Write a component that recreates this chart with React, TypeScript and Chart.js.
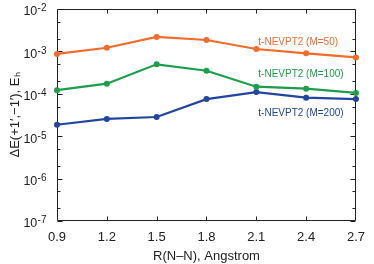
import React, { useEffect, useRef } from 'react';
import { Chart, registerables } from 'chart.js';

Chart.register(...registerables);

const categories = ['0.9', '1.2', '1.5', '1.8', '2.1', '2.4', '2.7'];
const m50 = [8.7e-4, 1.22e-3, 2.2e-3, 1.86e-3, 1.14e-3, 9.0e-4, 7.2e-4];
const m100 = [1.22e-4, 1.73e-4, 4.95e-4, 3.5e-4, 1.47e-4, 1.32e-4, 1.05e-4];
const m200 = [1.86e-5, 2.55e-5, 2.84e-5, 7.5e-5, 1.1e-4, 8.1e-5, 7.5e-5];
const seriesNames = ['t-NEVPT2 (M=50)', 't-NEVPT2 (M=100)', 't-NEVPT2 (M=200)'];
const seriesColors = ['#f26b2b', '#1d9e4b', '#2146a0'];
const yTickValues = [1e-7, 1e-6, 1e-5, 1e-4, 1e-3, 1e-2];
const yTickBase = '10';
const yTickExponents = ['-7', '-6', '-5', '-4', '-3', '-2'];
const minorMultipliers = [2, 5];
const labelCategory = '2.1';
const labelValues = [1.66e-3, 2.95e-4, 3.55e-5];
const xTitle = 'R(N–N), Angstrom';
const yTitle = 'ΔE(+1′,−1′), Eₕ';

const FONT = "'Liberation Sans', Arial, Helvetica, sans-serif";
const INK = '#222222';

const framePlugin = {
  id: 'frame',
  beforeDatasetsDraw(chart: any) {
    const { ctx, chartArea, scales } = chart;
    const x = scales.x;
    const y = scales.y;
    const l = Math.round(chartArea.left) + 0.5;
    const r = Math.round(chartArea.right) - 0.5;
    const t = Math.round(chartArea.top) + 0.5;
    const b = Math.round(chartArea.bottom) - 0.5;
    ctx.save();
    ctx.strokeStyle = INK;
    ctx.lineWidth = 1;
    ctx.beginPath();
    ctx.rect(l, t, r - l, b - t);
    ctx.stroke();
    ctx.beginPath();
    for (let d = 0; d < yTickValues.length; d++) {
      const v = yTickValues[d];
      const py = Math.round(y.getPixelForValue(v)) + 0.5;
      ctx.moveTo(l, py); ctx.lineTo(l + 5, py);
      ctx.moveTo(r, py); ctx.lineTo(r - 5, py);
      if (d < yTickValues.length - 1) {
        for (const m of minorMultipliers) {
          const pm = Math.round(y.getPixelForValue(v * m)) + 0.5;
          ctx.moveTo(l, pm); ctx.lineTo(l + 3, pm);
          ctx.moveTo(r, pm); ctx.lineTo(r - 3, pm);
        }
      }
    }
    for (let i = 1; i < categories.length - 1; i++) {
      const px = Math.round(x.getPixelForValue(i)) + 0.5;
      ctx.moveTo(px, b); ctx.lineTo(px, b - 4);
      ctx.moveTo(px, t); ctx.lineTo(px, t + 4);
    }
    ctx.stroke();

    // y tick labels with superscript exponents
    ctx.fillStyle = INK;
    ctx.textBaseline = 'alphabetic';
    ctx.textAlign = 'left';
    const rightEdge = chartArea.left - 10.5;
    for (let d = 0; d < yTickValues.length; d++) {
      const py = y.getPixelForValue(yTickValues[d]);
      ctx.font = `10px ${FONT}`;
      const ew = ctx.measureText(yTickExponents[d]).width;
      const ex = rightEdge - ew;
      ctx.fillText(yTickExponents[d], ex, py + 2.3);
      ctx.font = `12.5px ${FONT}`;
      const bw = ctx.measureText(yTickBase).width;
      ctx.fillText(yTickBase, ex - bw - 0.3, py + 6.3);
    }
    ctx.restore();
  },
};

const seriesLabelPlugin = {
  id: 'seriesLabels',
  afterDatasetsDraw(chart: any) {
    const { ctx, scales } = chart;
    const idx = categories.indexOf(labelCategory);
    const px = scales.x.getPixelForValue(idx) + 2;
    ctx.save();
    ctx.font = `10px ${FONT}`;
    ctx.textAlign = 'left';
    ctx.textBaseline = 'middle';
    for (let i = 0; i < seriesNames.length; i++) {
      ctx.fillStyle = seriesColors[i];
      ctx.fillText(seriesNames[i], px, scales.y.getPixelForValue(labelValues[i]));
    }
    ctx.restore();
  },
};

export default function App() {
  const ref = useRef<HTMLCanvasElement | null>(null);
  useEffect(() => {
    if (!ref.current) return;
    const seriesData = [m50, m100, m200];
    const chart = new Chart(ref.current, {
      type: 'line',
      data: {
        labels: categories,
        datasets: seriesData.map((d, i) => ({
          label: seriesNames[i],
          data: d,
          borderColor: seriesColors[i],
          backgroundColor: seriesColors[i],
          borderWidth: 2.2,
          pointRadius: 3,
          pointBorderWidth: 0,
          pointHoverRadius: 3,
          tension: 0,
          clip: false as any,
        })),
      },
      options: {
        animation: false,
        responsive: true,
        maintainAspectRatio: false,
        layout: { padding: { top: 9, right: 12, left: 0, bottom: 0 } },
        plugins: { legend: { display: false }, tooltip: { enabled: false } },
        events: [],
        scales: {
          x: {
            type: 'category',
            offset: false,
            grid: { display: false, drawTicks: false },
            border: { display: false },
            ticks: {
              color: INK,
              font: { family: FONT, size: 13 },
              padding: 9,
              maxRotation: 0,
              autoSkip: false,
            },
            title: {
              display: true,
              text: xTitle,
              color: INK,
              font: { family: FONT, size: 13 },
              padding: { top: 2, bottom: 0 },
            },
            afterFit(scale: any) { scale.height = 43; },
          },
          y: {
            type: 'logarithmic',
            min: 1e-7,
            max: 1e-2,
            grid: { display: false, drawTicks: false },
            border: { display: false },
            afterBuildTicks(scale: any) {
              scale.ticks = yTickValues.map((v) => ({ value: v, major: true }));
            },
            ticks: { display: false },
            title: {
              display: true,
              text: yTitle,
              color: INK,
              font: { family: FONT, size: 13 },
              padding: { top: 8, bottom: 0 },
            },
            afterFit(scale: any) { scale.width = 57; },
          },
        },
      },
      plugins: [framePlugin, seriesLabelPlugin],
    });
    return () => chart.destroy();
  }, []);
  return (
    <div style={{ position: 'fixed', left: 0, top: 0, width: 374, height: 264 }}>
      <canvas ref={ref} />
    </div>
  );
}
